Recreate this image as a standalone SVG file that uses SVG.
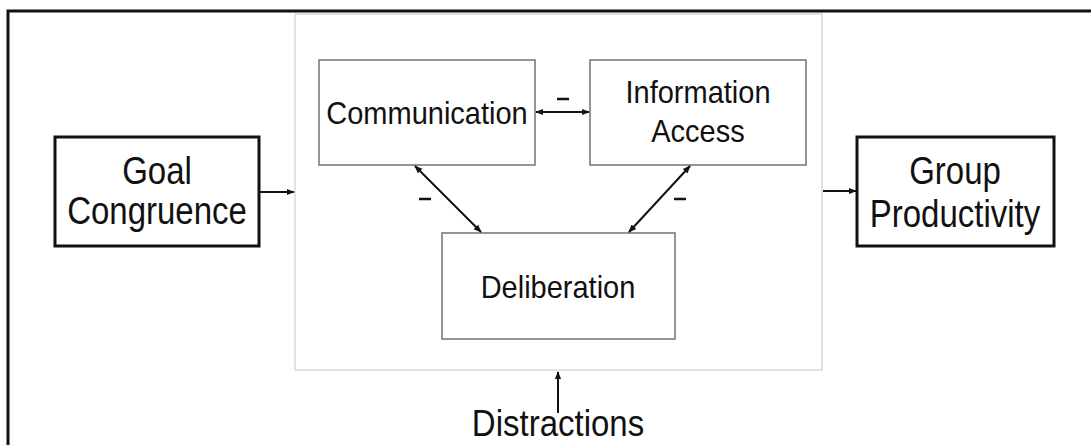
<svg xmlns="http://www.w3.org/2000/svg" width="1091" height="445" viewBox="0 0 1091 445">
  <style>
    .t { font-family: "Liberation Sans", Arial, sans-serif; fill: #111; text-anchor: middle; }
    .big { font-size: 33px; }
    .mid { font-size: 29px; }
    .outer { fill: #fff; stroke: #111; stroke-width: 3; }
    .inner { fill: none; stroke: #7a7a7a; stroke-width: 1.6; }
    .wrap { fill: #fff; stroke: #e2e2e2; stroke-width: 2; }
    .conn { stroke: #111; stroke-width: 2; fill: none; }
    .minus { stroke: #111; stroke-width: 2.5; }
  </style>
  <defs>
    <marker id="ah" viewBox="0 0 10 10" refX="9" refY="5" markerWidth="4" markerHeight="4" orient="auto-start-reverse" markerUnits="strokeWidth">
      <path d="M0,1 L10,5 L0,9 Z" fill="#111"/>
    </marker>
  </defs>
  <rect width="1091" height="445" fill="#fff"/>
  <rect id="frame" x="8" y="11" width="1100" height="450" fill="none" stroke="#111" stroke-width="3"/>

  <g id="process">
    <rect class="wrap" x="295" y="14" width="527" height="356"/>
  </g>

  <g id="goal-congruence">
    <rect class="outer" x="55" y="137" width="204" height="109"/>
    <text class="t big" transform="translate(157,184) scale(1,1.15)">Goal</text>
    <text class="t big" transform="translate(157,224) scale(1,1.15)">Congruence</text>
  </g>

  <g id="group-productivity">
    <rect class="outer" x="857" y="137" width="197" height="109"/>
    <text class="t big" transform="translate(955,184) scale(1,1.15)">Group</text>
    <text class="t big" transform="translate(955,227) scale(1,1.15)">Productivity</text>
  </g>

  <g id="communication">
    <rect class="inner" x="319" y="60" width="216" height="105"/>
    <text class="t mid" transform="translate(427,124) scale(1,1.08)">Communication</text>
  </g>

  <g id="information-access">
    <rect class="inner" x="590" y="60" width="216" height="105"/>
    <text class="t mid" transform="translate(698,103) scale(1,1.08)">Information</text>
    <text class="t mid" transform="translate(698,142) scale(1,1.08)">Access</text>
  </g>

  <g id="deliberation">
    <rect class="inner" x="442" y="233" width="233" height="106"/>
    <text class="t mid" transform="translate(558,298) scale(1,1.08)">Deliberation</text>
  </g>

  <g id="distractions">
    <text class="t big" transform="translate(558,436) scale(1,1.12)">Distractions</text>
  </g>

  <g id="connectors">
    <line class="conn" x1="259" y1="192" x2="294" y2="192" marker-end="url(#ah)"/>
    <line class="conn" x1="823" y1="191" x2="856" y2="191" marker-end="url(#ah)"/>
    <line class="conn" x1="536" y1="112" x2="589" y2="112" marker-start="url(#ah)" marker-end="url(#ah)"/>
    <line class="conn" x1="415" y1="166" x2="481" y2="232" marker-start="url(#ah)" marker-end="url(#ah)"/>
    <line class="conn" x1="690" y1="166" x2="629" y2="232" marker-start="url(#ah)" marker-end="url(#ah)"/>
    <line class="conn" x1="558" y1="413" x2="558" y2="372" marker-end="url(#ah)"/>
    <line class="minus" x1="557" y1="99" x2="569" y2="99"/>
    <line class="minus" x1="419" y1="199" x2="431" y2="199"/>
    <line class="minus" x1="674" y1="199" x2="686" y2="199"/>
  </g>
</svg>
